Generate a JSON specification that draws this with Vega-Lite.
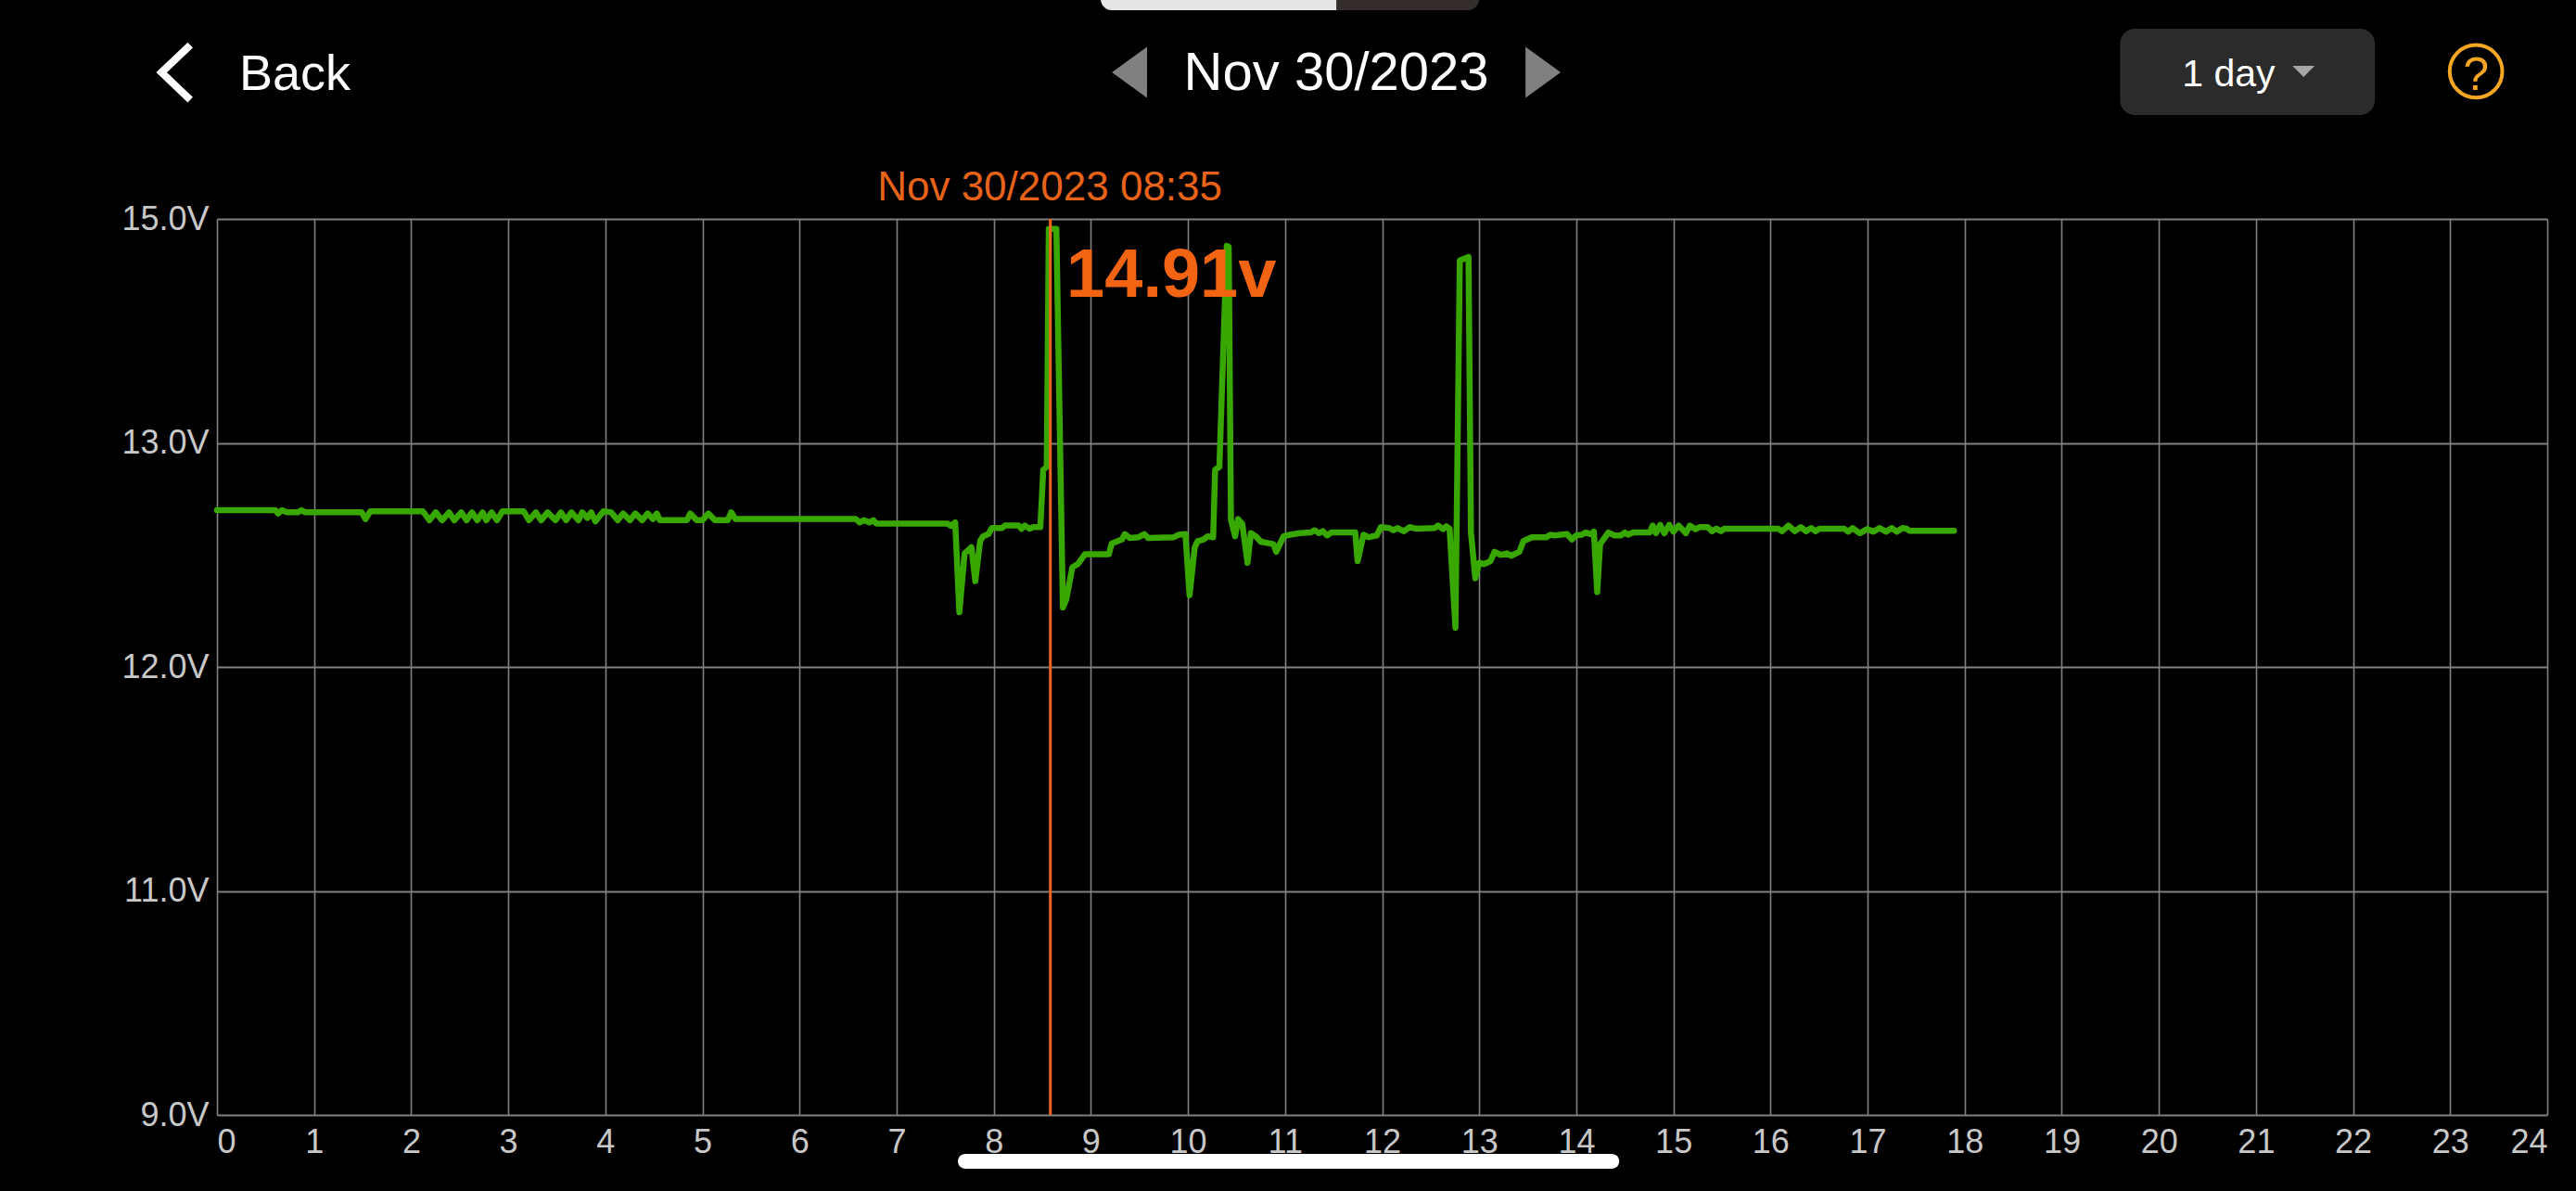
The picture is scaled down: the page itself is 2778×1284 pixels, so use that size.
{
"$schema":"https://vega.github.io/schema/vega-lite/v6.json",
"autosize":"none","width":2513,"height":966,
"padding":{"left":234,"top":236,"right":31,"bottom":82},
"background":"#000000",
"config":{"view":{"stroke":null},"font":"Liberation Sans"},
"datasets":{"voltage":[
{"hour":0,"volts":12.7},{"hour":0.6,"volts":12.7},{"hour":0.63,"volts":12.685},{"hour":0.67,"volts":12.7},{"hour":0.72,"volts":12.69},{"hour":0.83,"volts":12.69},{"hour":0.87,"volts":12.7},{"hour":0.91,"volts":12.69},{"hour":1.49,"volts":12.69},{"hour":1.53,"volts":12.66},{"hour":1.58,"volts":12.695},{"hour":2.12,"volts":12.695},
{"hour":2.188,"volts":12.655},{"hour":2.253,"volts":12.69},{"hour":2.319,"volts":12.655},{"hour":2.39,"volts":12.69},{"hour":2.445,"volts":12.655},{"hour":2.516,"volts":12.69},{"hour":2.571,"volts":12.655},{"hour":2.626,"volts":12.69},{"hour":2.681,"volts":12.655},{"hour":2.736,"volts":12.69},{"hour":2.774,"volts":12.655},{"hour":2.829,"volts":12.69},{"hour":2.884,"volts":12.655},{"hour":2.94,"volts":12.695},{"hour":3.158,"volts":12.695},
{"hour":3.213,"volts":12.655},{"hour":3.284,"volts":12.69},{"hour":3.339,"volts":12.655},{"hour":3.405,"volts":12.69},{"hour":3.487,"volts":12.655},{"hour":3.542,"volts":12.69},{"hour":3.596,"volts":12.655},{"hour":3.651,"volts":12.69},{"hour":3.723,"volts":12.655},{"hour":3.761,"volts":12.69},{"hour":3.816,"volts":12.665},{"hour":3.854,"volts":12.69},{"hour":3.898,"volts":12.65},{"hour":3.98,"volts":12.695},{"hour":4.06,"volts":12.69},{"hour":4.128,"volts":12.655},{"hour":4.183,"volts":12.685},{"hour":4.254,"volts":12.655},{"hour":4.309,"volts":12.685},{"hour":4.38,"volts":12.655},{"hour":4.435,"volts":12.685},{"hour":4.49,"volts":12.66},{"hour":4.53,"volts":12.685},{"hour":4.56,"volts":12.655},
{"hour":4.84,"volts":12.655},{"hour":4.874,"volts":12.685},{"hour":4.94,"volts":12.655},{"hour":5.0,"volts":12.655},{"hour":5.06,"volts":12.685},{"hour":5.13,"volts":12.655},{"hour":5.26,"volts":12.655},{"hour":5.296,"volts":12.69},{"hour":5.34,"volts":12.66},{"hour":6.58,"volts":12.66},{"hour":6.62,"volts":12.645},{"hour":6.66,"volts":12.655},{"hour":6.72,"volts":12.645},{"hour":6.76,"volts":12.655},{"hour":6.79,"volts":12.64},{"hour":7.52,"volts":12.64},{"hour":7.56,"volts":12.63},{"hour":7.603,"volts":12.645},
{"hour":7.646,"volts":12.244},{"hour":7.7,"volts":12.507},{"hour":7.77,"volts":12.534},{"hour":7.81,"volts":12.383},{"hour":7.86,"volts":12.562},{"hour":7.89,"volts":12.583},{"hour":7.945,"volts":12.593},{"hour":7.98,"volts":12.62},{"hour":8.085,"volts":12.62},{"hour":8.115,"volts":12.631},{"hour":8.256,"volts":12.631},{"hour":8.286,"volts":12.617},{"hour":8.32,"volts":12.631},{"hour":8.37,"volts":12.617},{"hour":8.405,"volts":12.624},{"hour":8.48,"volts":12.624},{"hour":8.51,"volts":12.88},{"hour":8.546,"volts":12.893},{"hour":8.567,"volts":14.91},{"hour":8.645,"volts":14.91},
{"hour":8.712,"volts":12.265},{"hour":8.746,"volts":12.3},{"hour":8.81,"volts":12.445},{"hour":8.866,"volts":12.459},{"hour":8.94,"volts":12.503},{"hour":9.185,"volts":12.503},{"hour":9.215,"volts":12.551},{"hour":9.32,"volts":12.569},{"hour":9.35,"volts":12.593},{"hour":9.4,"volts":12.576},{"hour":9.49,"volts":12.579},{"hour":9.55,"volts":12.593},{"hour":9.59,"volts":12.576},{"hour":9.855,"volts":12.579},{"hour":9.906,"volts":12.59},{"hour":9.974,"volts":12.593},{"hour":10.017,"volts":12.32},{"hour":10.07,"volts":12.534},{"hour":10.1,"volts":12.562},{"hour":10.16,"volts":12.569},{"hour":10.205,"volts":12.583},{"hour":10.26,"volts":12.579},{"hour":10.28,"volts":12.88},{"hour":10.324,"volts":12.893},{"hour":10.4,"volts":14.76},{"hour":10.42,"volts":14.75},{"hour":10.443,"volts":12.659},{"hour":10.486,"volts":12.583},{"hour":10.516,"volts":12.66},{"hour":10.56,"volts":12.638},{"hour":10.614,"volts":12.465},{"hour":10.648,"volts":12.597},{"hour":10.7,"volts":12.583},{"hour":10.75,"volts":12.559},{"hour":10.88,"volts":12.548},{"hour":10.91,"volts":12.514},{"hour":10.985,"volts":12.583},{"hour":11.05,"volts":12.59},{"hour":11.155,"volts":12.597},{"hour":11.262,"volts":12.6},{"hour":11.305,"volts":12.61},{"hour":11.348,"volts":12.597},{"hour":11.39,"volts":12.606},{"hour":11.433,"volts":12.587},{"hour":11.475,"volts":12.6},{"hour":11.723,"volts":12.6},{"hour":11.748,"volts":12.472},{"hour":11.808,"volts":12.59},{"hour":11.859,"volts":12.579},{"hour":11.945,"volts":12.587},{"hour":11.987,"volts":12.624},{"hour":12.073,"volts":12.62},{"hour":12.115,"volts":12.61},{"hour":12.158,"volts":12.62},{"hour":12.222,"volts":12.606},{"hour":12.286,"volts":12.624},{"hour":12.35,"volts":12.617},{"hour":12.542,"volts":12.62},{"hour":12.576,"volts":12.631},{"hour":12.627,"volts":12.615},{"hour":12.661,"volts":12.628},{"hour":12.695,"volts":12.617},{"hour":12.755,"volts":12.175},{"hour":12.8,"volts":14.63},{"hour":12.89,"volts":14.66},{"hour":12.915,"volts":12.6},{"hour":12.96,"volts":12.396},{"hour":13.0,"volts":12.465},
{"hour":13.051,"volts":12.459},{"hour":13.115,"volts":12.472},{"hour":13.158,"volts":12.514},{"hour":13.222,"volts":12.5},{"hour":13.286,"volts":12.507},{"hour":13.328,"volts":12.496},{"hour":13.414,"volts":12.514},{"hour":13.456,"volts":12.562},{"hour":13.542,"volts":12.579},{"hour":13.691,"volts":12.579},{"hour":13.733,"volts":12.59},{"hour":13.776,"volts":12.587},{"hour":13.904,"volts":12.593},{"hour":13.955,"volts":12.569},{"hour":13.998,"volts":12.587},{"hour":14.053,"volts":12.59},{"hour":14.096,"volts":12.6},{"hour":14.147,"volts":12.593},{"hour":14.181,"volts":12.604},{"hour":14.215,"volts":12.334},{"hour":14.245,"volts":12.548},{"hour":14.33,"volts":12.6},{"hour":14.394,"volts":12.587},{"hour":14.458,"volts":12.587},{"hour":14.501,"volts":12.6},{"hour":14.531,"volts":12.59},{"hour":14.586,"volts":12.6},{"hour":14.757,"volts":12.6},
{"hour":14.787,"volts":12.631},{"hour":14.82,"volts":12.597},{"hour":14.864,"volts":12.634},{"hour":14.906,"volts":12.597},{"hour":14.957,"volts":12.634},{"hour":15.0,"volts":12.604},{"hour":15.055,"volts":12.631},{"hour":15.128,"volts":12.597},{"hour":15.17,"volts":12.631},{"hour":15.226,"volts":12.615},{"hour":15.269,"volts":12.624},{"hour":15.354,"volts":12.624},{"hour":15.397,"volts":12.606},{"hour":15.44,"volts":12.617},{"hour":15.49,"volts":12.606},{"hour":15.525,"volts":12.617},{"hour":16.08,"volts":12.617},{"hour":16.12,"volts":12.606},{"hour":16.186,"volts":12.631},{"hour":16.25,"volts":12.606},{"hour":16.313,"volts":12.624},{"hour":16.365,"volts":12.606},{"hour":16.42,"volts":12.62},{"hour":16.463,"volts":12.606},{"hour":16.505,"volts":12.617},{"hour":16.76,"volts":12.617},{"hour":16.8,"volts":12.604},{"hour":16.846,"volts":12.62},{"hour":16.92,"volts":12.597},{"hour":16.996,"volts":12.615},{"hour":17.06,"volts":12.604},{"hour":17.124,"volts":12.62},{"hour":17.19,"volts":12.604},{"hour":17.25,"volts":12.62},{"hour":17.3,"volts":12.604},{"hour":17.36,"volts":12.62},{"hour":17.4,"volts":12.617},{"hour":17.43,"volts":12.608},{"hour":17.89,"volts":12.608}
]},
"data":{"name":"voltage"},
"layer":[
{"mark":{"type":"line","color":"#38a800","strokeWidth":6.5,"strokeJoin":"round","strokeCap":"round","interpolate":"linear"},
 "encoding":{
  "x":{"field":"hour","type":"quantitative","title":null,"scale":{"domain":[0,24],"nice":false,"zero":false},
   "axis":{"values":[0,1,2,3,4,5,6,7,8,9,10,11,12,13,14,15,16,17,18,19,20,21,22,23,24],"format":"d","grid":true,"gridColor":"#808080","gridWidth":1.6,"domain":false,"ticks":false,"labelColor":"#c8c8c8","labelFontSize":36,"labelFlush":true,"labelPadding":12,"labelOverlap":false,"labelFont":"Liberation Sans","zindex":0}},
  "y":{"field":"volts","type":"quantitative","title":null,"scale":{"domain":[9,11,12,13,15],"range":[966,724.5,483,241.5,0],"nice":false,"zero":false},
   "axis":{"values":[9,11,12,13,15],"labelExpr":"format(datum.value,'.1f')+'V'","grid":true,"gridColor":"#808080","gridWidth":1.8,"domain":false,"ticks":false,"labelColor":"#c8c8c8","labelFontSize":36,"labelPadding":9,"labelOverlap":false,"labelFont":"Liberation Sans","zindex":0}}
 }},
{"data":{"values":[{"id":"marker"}]},"mark":{"type":"rule","color":"#f0641e","strokeWidth":3},"encoding":{"x":{"datum":8.583,"type":"quantitative","title":null}}},
{"data":{"values":[{"label":"Nov 30/2023 08:35"}]},"mark":{"type":"text","color":"#e8631a","fontSize":44,"align":"center","baseline":"alphabetic"},"encoding":{"text":{"field":"label"},"x":{"datum":8.577,"type":"quantitative","title":null},"y":{"datum":15.166,"type":"quantitative","title":null}}},
{"data":{"values":[{"label":"14.91v"}]},"mark":{"type":"text","color":"#f26412","fontSize":74,"fontWeight":"bold","align":"left","baseline":"alphabetic"},"encoding":{"text":{"field":"label"},"x":{"datum":8.749,"type":"quantitative","title":null},"y":{"datum":14.304,"type":"quantitative","title":null}}},
{"data":{"values":[{"id":"back"}]},"mark":{"type":"point","shape":"M 0.55 -1 L -0.5 0 L 0.55 1","filled":false,"stroke":"#ffffff","strokeWidth":8,"size":3481,"opacity":1},"encoding":{"x":{"datum":-0.43,"type":"quantitative","title":null},"y":{"datum":16.308,"type":"quantitative","title":null}}},
{"data":{"values":[{"label":"Back"}]},"mark":{"type":"text","color":"#ffffff","fontSize":54,"align":"left","baseline":"alphabetic"},"encoding":{"text":{"field":"label"},"x":{"datum":0.229,"type":"quantitative","title":null},"y":{"datum":16.151,"type":"quantitative","title":null}}},
{"data":{"values":[{"label":"Nov 30/2023"}]},"mark":{"type":"text","color":"#ffffff","fontSize":58,"align":"center","baseline":"alphabetic"},"encoding":{"text":{"field":"label"},"x":{"datum":11.528,"type":"quantitative","title":null},"y":{"datum":16.151,"type":"quantitative","title":null}}},
{"data":{"values":[{"id":"prev"}]},"mark":{"type":"point","shape":"M 0.69 -1 L 0.69 1 L -0.69 0 Z","filled":true,"fill":"#808080","stroke":null,"size":3025,"opacity":1},"encoding":{"x":{"datum":9.398,"type":"quantitative","title":null},"y":{"datum":16.308,"type":"quantitative","title":null}}},
{"data":{"values":[{"id":"next"}]},"mark":{"type":"point","shape":"M -0.69 -1 L -0.69 1 L 0.69 0 Z","filled":true,"fill":"#808080","stroke":null,"size":3025,"opacity":1},"encoding":{"x":{"datum":13.658,"type":"quantitative","title":null},"y":{"datum":16.308,"type":"quantitative","title":null}}},
{"data":{"values":[{"id":"button"}]},"mark":{"type":"rect","color":"#2b2b2b","cornerRadius":16},"encoding":{"x":{"datum":19.6,"type":"quantitative","title":null},"x2":{"datum":22.225},"y":{"datum":16.698,"type":"quantitative","title":null},"y2":{"datum":15.928}}},
{"data":{"values":[{"label":"1 day"}]},"mark":{"type":"text","color":"#ffffff","fontSize":41,"align":"left","baseline":"alphabetic"},"encoding":{"text":{"field":"label"},"x":{"datum":20.24,"type":"quantitative","title":null},"y":{"datum":16.184,"type":"quantitative","title":null}}},
{"data":{"values":[{"id":"caret"}]},"mark":{"type":"point","shape":"M -1 -0.5 L 1 -0.5 L 0 0.5 Z","filled":true,"fill":"#a6a6a6","stroke":null,"size":576,"opacity":1},"encoding":{"x":{"datum":21.49,"type":"quantitative","title":null},"y":{"datum":16.317,"type":"quantitative","title":null}}},
{"data":{"values":[{"id":"help"}]},"mark":{"type":"point","shape":"circle","filled":false,"stroke":"#f5a623","strokeWidth":4,"size":3217,"opacity":1},"encoding":{"x":{"datum":23.266,"type":"quantitative","title":null},"y":{"datum":16.317,"type":"quantitative","title":null}}},
{"data":{"values":[{"label":"?"}]},"mark":{"type":"text","color":"#f5a623","fontSize":50,"align":"center","baseline":"alphabetic"},"encoding":{"text":{"field":"label"},"x":{"datum":23.266,"type":"quantitative","title":null},"y":{"datum":16.151,"type":"quantitative","title":null}}},
{"data":{"values":[{"id":"pill-dark"}]},"mark":{"type":"rect","color":"#332e2b","cornerRadius":12},"encoding":{"x":{"datum":9.102,"type":"quantitative","title":null},"x2":{"datum":12.999},"y":{"datum":17.12,"type":"quantitative","title":null},"y2":{"datum":16.863}}},
{"data":{"values":[{"id":"pill-light"}]},"mark":{"type":"rect","color":"#e6e6e6","cornerRadiusBottomLeft":12},"encoding":{"x":{"datum":9.102,"type":"quantitative","title":null},"x2":{"datum":11.528},"y":{"datum":17.12,"type":"quantitative","title":null},"y2":{"datum":16.863}}},
{"data":{"values":[{"id":"home"}]},"mark":{"type":"rect","color":"#ffffff","cornerRadius":8},"encoding":{"x":{"datum":7.631,"type":"quantitative","title":null},"x2":{"datum":14.442},"y":{"datum":8.652,"type":"quantitative","title":null},"y2":{"datum":8.52}}}
]
}
